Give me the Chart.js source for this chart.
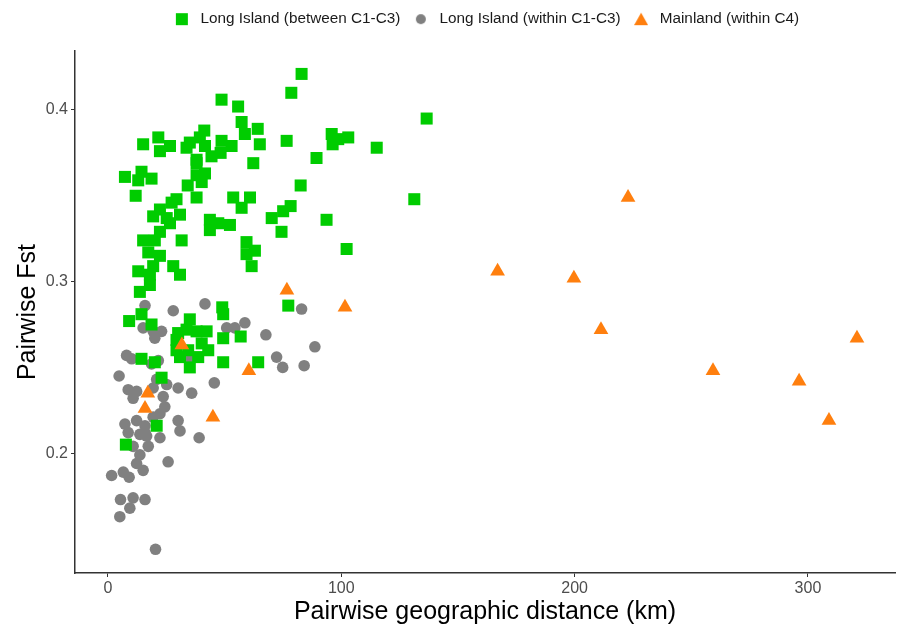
<!DOCTYPE html>
<html>
<head>
<meta charset="utf-8">
<script src="https://cdn.jsdelivr.net/npm/chart.js@4"></script>
<style>
  html, body { margin: 0; padding: 0; background: #fff; }
  #wrap { width: 898px; height: 627px; }
</style>
</head>
<body>
<div id="wrap"><canvas id="fstChart" width="898" height="627"></canvas></div>
<script>
// series names (legend order)
const seriesNames = ['Long Island (between C1-C3)', 'Long Island (within C1-C3)', 'Mainland (within C4)'];

// Long Island, between clusters C1-C3 (km, Fst)
const betweenDist = [48.7, 55.8, 57.3, 64.2, 58.7, 65.1, 62.3, 78.6, 83.0, 76.6, 41.3, 39.4, 48.7, 53.0, 44.4, 48.3, 41.6, 38.0, 33.7, 35.1,
  15.1, 21.6, 26.6, 22.3, 7.3, 14.4, 18.7, 13.0, 11.9, 38.0, 41.6, 40.2, 34.2, 38.0, 53.7, 60.9, 57.3, 29.4, 27.3, 22.3,
  19.4, 30.9, 25.2, 26.6, 22.3, 15.1, 20.1, 31.6, 43.7, 47.3, 52.3, 43.7, 70.2, 75.1, 74.4, 59.4, 63.0, 17.3, 22.3, 95.9,
  98.7, 103.0, 96.3, 115.2, 89.4, 82.6, 136.6, 131.3, 78.3, 93.7, 102.3, 77.3, 38.0, 19.4, 59.4, 61.6, 13.0, 18.0, 28.0, 30.9,
  18.0, 13.7, 49.0, 49.4, 14.4, 9.1, 18.7, 35.1, 33.7, 30.1, 38.0, 42.3, 29.4, 29.4, 30.9, 40.2, 43.0, 38.7, 34.4, 49.4,
  56.9, 49.4, 64.4, 14.4, 20.1, 35.1, 23.0, 20.9, 7.7];
const betweenFst = [0.406, 0.402, 0.393, 0.389, 0.386, 0.380, 0.369, 0.410, 0.421, 0.382, 0.388, 0.384, 0.382, 0.379, 0.373, 0.375, 0.379, 0.371, 0.378, 0.381,
  0.380, 0.384, 0.379, 0.376, 0.361, 0.364, 0.360, 0.359, 0.350, 0.362, 0.363, 0.358, 0.356, 0.349, 0.349, 0.349, 0.343, 0.348, 0.346, 0.342,
  0.338, 0.339, 0.337, 0.334, 0.329, 0.324, 0.324, 0.324, 0.336, 0.334, 0.333, 0.330, 0.337, 0.341, 0.329, 0.323, 0.318, 0.317, 0.315, 0.386,
  0.383, 0.384, 0.380, 0.378, 0.372, 0.356, 0.395, 0.348, 0.344, 0.336, 0.319, 0.286, 0.369, 0.309, 0.316, 0.309, 0.306, 0.304, 0.309, 0.304,
  0.298, 0.294, 0.285, 0.281, 0.281, 0.277, 0.275, 0.278, 0.272, 0.270, 0.271, 0.271, 0.266, 0.260, 0.256, 0.264, 0.260, 0.256, 0.260, 0.267,
  0.268, 0.253, 0.253, 0.255, 0.253, 0.250, 0.244, 0.216, 0.205];

// Long Island, within clusters C1-C3
const withinDist = [15.9, 28.0, 41.6, 15.1, 19.4, 23.0, 20.1, 50.9, 54.4, 58.7, 67.7, 8.0, 10.2, 18.7, 21.6, 72.3, 74.9, 4.8, 20.9, 25.2,
  45.6, 8.7, 12.3, 10.8, 19.4, 23.7, 30.1, 35.9, 24.4, 22.3, 19.4, 7.3, 12.3, 15.9, 30.1, 30.9, 8.7, 13.7, 16.6, 22.3,
  39.1, 10.8, 17.3, 13.7, 12.3, 25.8, 15.1, 1.6, 6.6, 9.1, 5.4, 10.8, 15.9, 9.4, 5.1, 20.4, 83.0, 88.7, 84.1, 15.9, 35.1];
const withinFst = [0.286, 0.283, 0.287, 0.273, 0.271, 0.271, 0.267, 0.273, 0.273, 0.276, 0.269, 0.257, 0.255, 0.252, 0.254, 0.256, 0.250, 0.245, 0.243, 0.240,
  0.241, 0.237, 0.236, 0.232, 0.238, 0.233, 0.238, 0.235, 0.227, 0.223, 0.221, 0.217, 0.219, 0.216, 0.219, 0.213, 0.212, 0.211, 0.210, 0.209,
  0.209, 0.204, 0.204, 0.199, 0.194, 0.195, 0.190, 0.187, 0.189, 0.186, 0.173, 0.174, 0.173, 0.168, 0.163, 0.144, 0.284, 0.262, 0.251, 0.212, 0.255];

// Mainland, within C4
const mainlandDist = [31.7, 76.7, 101.6, 17.1, 15.9, 45.0, 60.4, 167.0, 199.7, 222.9, 211.3, 259.3, 296.2, 309.0, 321.0];
const mainlandFst = [0.263, 0.295, 0.285, 0.235, 0.226, 0.221, 0.248, 0.306, 0.302, 0.349, 0.272, 0.248, 0.242, 0.219, 0.267];

// axis ticks
const xTicks = [0, 100, 200, 300];
const yTicks = [0.2, 0.3, 0.4];

const colors = ['#00CC00', '#808080', '#FF7F0E'];

const toPoints = (xs, ys) => xs.map((x, i) => ({ x: x, y: ys[i] }));

const FONT = "'Liberation Sans', Arial, sans-serif";

// small legend keys, drawn like ggplot's (smaller than the plotted marks)
function legendKey(shape, color) {
  const c = document.createElement('canvas');
  c.width = 14; c.height = 14;
  const g = c.getContext('2d');
  g.fillStyle = color;
  g.beginPath();
  if (shape === 'rect') {
    g.rect(1, 1, 12, 12);
  } else if (shape === 'circle') {
    g.arc(7, 7, 5, 0, Math.PI * 2);
  } else {
    g.moveTo(7, 0.5); g.lineTo(14, 13); g.lineTo(0, 13); g.closePath();
  }
  g.fill();
  return c;
}
const legendKeys = [legendKey('rect', colors[0]), legendKey('circle', colors[1]), legendKey('triangle', colors[2])];

new Chart(document.getElementById('fstChart'), {
  type: 'scatter',
  data: {
    datasets: [
      {
        label: seriesNames[0],
        data: toPoints(betweenDist, betweenFst),
        pointStyle: 'rect',
        pointRadius: 8.5,
        backgroundColor: colors[0],
        borderWidth: 0,
        order: 1
      },
      {
        label: seriesNames[1],
        data: toPoints(withinDist, withinFst),
        pointStyle: 'circle',
        pointRadius: 5.8,
        backgroundColor: colors[1],
        borderWidth: 0,
        order: 2
      },
      {
        label: seriesNames[2],
        data: toPoints(mainlandDist, mainlandFst),
        pointStyle: 'triangle',
        pointRadius: 8.5,
        backgroundColor: colors[2],
        borderWidth: 0,
        order: 0
      }
    ]
  },
  options: {
    responsive: false,
    animation: false,
    layout: { autoPadding: false, padding: { top: 2, right: 3, left: 0, bottom: 0 } },
    plugins: {
      tooltip: { enabled: false },
      legend: {
        position: 'top',
        fullSize: false,
        labels: {
          usePointStyle: true,
          pointStyleWidth: 22,
          padding: 9.5,
          color: '#1a1a1a',
          font: { family: FONT, size: 15.3 },
          sort: (a, b) => a.datasetIndex - b.datasetIndex,
          generateLabels: (chart) => Chart.defaults.plugins.legend.labels.generateLabels(chart)
            .map(item => Object.assign(item, { pointStyle: legendKeys[item.datasetIndex] }))
        }
      },
      // empty spacer under the legend (gap above the panel)
      title: {
        display: true,
        text: '',
        position: 'top',
        weight: 500,
        font: { size: 1 },
        padding: { top: 0, bottom: 13.1 }
      }
    },
    scales: {
      x: {
        type: 'linear',
        min: -14.1,
        max: 337.3,
        afterBuildTicks: (scale) => { scale.ticks = xTicks.map(v => ({ value: v })); },
        afterFit: (scale) => { scale.height = 54; },
        grid: { drawOnChartArea: false, drawTicks: true, tickLength: 4, color: '#333333' },
        border: { display: true, color: '#333333', width: 1.5 },
        ticks: { color: '#4d4d4d', font: { family: FONT, size: 16 }, padding: 2 },
        title: {
          display: true,
          text: 'Pairwise geographic distance (km)',
          color: '#000',
          font: { family: FONT, size: 25 },
          padding: { top: 0, bottom: 0 }
        }
      },
      y: {
        type: 'linear',
        min: 0.1302,
        max: 0.4343,
        afterBuildTicks: (scale) => { scale.ticks = yTicks.map(v => ({ value: v })); },
        afterFit: (scale) => { scale.width = 75; },
        grid: { drawOnChartArea: false, drawTicks: true, tickLength: 4, color: '#333333' },
        border: { display: true, color: '#333333', width: 1.5 },
        ticks: { color: '#4d4d4d', font: { family: FONT, size: 16 }, padding: 3,
          callback: (v) => v.toFixed(1) },
        title: {
          display: true,
          text: 'Pairwise Fst',
          color: '#000',
          font: { family: FONT, size: 25 },
          padding: { top: 13, bottom: 0 }
        }
      }
    }
  }
});
</script>
</body>
</html>
